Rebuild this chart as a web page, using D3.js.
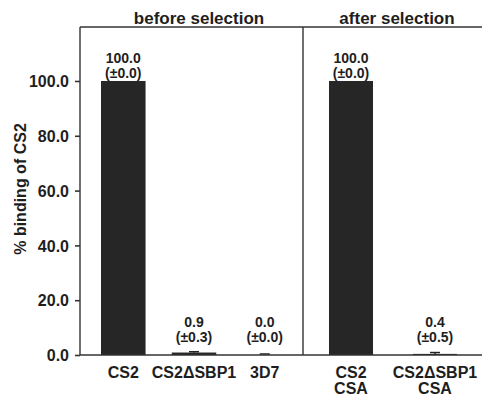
<!DOCTYPE html>
<html>
<head>
<meta charset="utf-8">
<script src="https://d3js.org/d3.v7.min.js"></script>
<style>
  body { margin: 0; background: #fff; }
  text { font-family: "Liberation Sans", Arial, sans-serif; font-weight: bold; fill: #1e1e1e; }
</style>
</head>
<body>
<script>
// data
var panels = ["before selection", "after selection"];
var beforeCats = ["CS2", "CS2\u0394SBP1", "3D7"];
var beforeVals = [100.0, 0.9, 0.0];
var beforeErr = [0.0, 0.3, 0.0];
var afterCats = [["CS2", "CSA"], ["CS2\u0394SBP1", "CSA"]];
var afterVals = [100.0, 0.4];
var afterErr = [0.0, 0.5];
var yTicks = [0, 20, 40, 60, 80, 100];

var W = 482, H = 398;
var pLeft = 80, pRight = 482, pTop = 27, pBottom = 355, split = 303;

var svg = d3.select("body").append("svg").attr("width", W).attr("height", H);

var y = d3.scaleLinear().domain([0, 119.7]).range([pBottom, pTop]);

var x1 = d3.scaleBand().domain(d3.range(beforeCats.length)).range([101, 287]).paddingInner(0.37).paddingOuter(0);
var x2 = d3.scaleBand().domain(d3.range(afterCats.length)).range([329, 457]).paddingInner(0.476).paddingOuter(0);

// y axis
var yAxis = svg.append("g")
  .attr("transform", "translate(" + pLeft + ",0)")
  .call(d3.axisLeft(y).tickValues(yTicks).tickFormat(d3.format(".1f")).tickSize(5).tickPadding(6));
yAxis.selectAll("text").style("font-size", "16px").attr("dy", "0.36em");
yAxis.selectAll("line").attr("stroke", "#333").attr("stroke-width", 1.6);
yAxis.select(".domain").remove();

// frame lines
svg.append("line").attr("x1", pLeft).attr("x2", pLeft).attr("y1", pTop).attr("y2", pBottom).attr("stroke", "#333").attr("stroke-width", 1.4);
svg.append("line").attr("x1", pLeft).attr("x2", pRight).attr("y1", pTop).attr("y2", pTop).attr("stroke", "#333").attr("stroke-width", 1.4);
svg.append("line").attr("x1", split).attr("x2", split).attr("y1", pTop).attr("y2", pBottom).attr("stroke", "#333").attr("stroke-width", 1.4);

svg.append("text")
  .attr("transform", "translate(26," + ((pTop + pBottom) / 2 - 2) + ") rotate(-90)")
  .attr("text-anchor", "middle")
  .style("font-size", "16px")
  .text("% binding of CS2");

// panel titles
svg.append("text").attr("x", 199).attr("y", 24).attr("text-anchor", "middle")
  .style("font-size", "17px").text(panels[0]);
svg.append("text").attr("x", 397).attr("y", 24).attr("text-anchor", "middle")
  .style("font-size", "17px").text(panels[1]);

function drawPanel(x, vals, errs, cats) {
  var g = svg.append("g");
  var bw = x.bandwidth();
  vals.forEach(function(v, i) {
    var cx = x(i) + bw / 2;
    g.append("rect")
      .attr("x", x(i)).attr("width", bw)
      .attr("y", y(v)).attr("height", Math.max(pBottom - y(v), 0))
      .attr("fill", "#262626");
    if (errs[i] > 0) {
      g.append("line").attr("x1", cx).attr("x2", cx).attr("y1", y(v + errs[i])).attr("y2", y(v))
        .attr("stroke", "#222").attr("stroke-width", 1.5);
      g.append("line").attr("x1", cx - 5).attr("x2", cx + 5).attr("y1", y(v + errs[i])).attr("y2", y(v + errs[i]))
        .attr("stroke", "#222").attr("stroke-width", 1.5);
    } else if (v === 0) {
      g.append("line").attr("x1", cx - 5).attr("x2", cx + 5).attr("y1", y(v) - 1).attr("y2", y(v) - 1)
        .attr("stroke", "#222").attr("stroke-width", 1.5);
    }
    var ty = Math.min(y(v), pBottom - 10);
    g.append("text").attr("x", cx).attr("y", ty - 18).attr("text-anchor", "middle")
      .style("font-size", "14px").text(v.toFixed(1));
    g.append("text").attr("x", cx).attr("y", ty - 3).attr("text-anchor", "middle")
      .style("font-size", "14px").text("(\u00b1" + errs[i].toFixed(1) + ")");
    var lines = Array.isArray(cats[i]) ? cats[i] : [cats[i]];
    lines.forEach(function(l, k) {
      g.append("text").attr("x", cx).attr("y", 378 + k * 16).attr("text-anchor", "middle")
        .style("font-size", "16px").text(l);
    });
  });
}

drawPanel(x1, beforeVals, beforeErr, beforeCats);
drawPanel(x2, afterVals, afterErr, afterCats);

// baseline
svg.append("line").attr("x1", pLeft).attr("x2", pRight).attr("y1", pBottom).attr("y2", pBottom).attr("stroke", "#333").attr("stroke-width", 1.6);
</script>
</body>
</html>
